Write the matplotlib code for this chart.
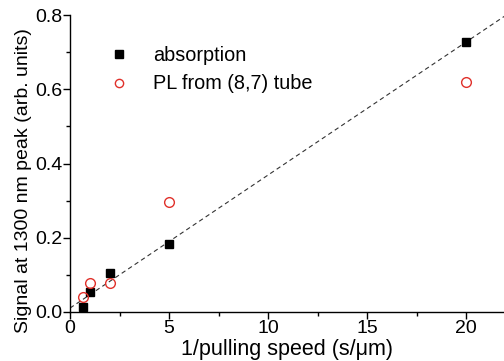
import matplotlib
matplotlib.use("Agg")
import matplotlib.pyplot as plt
import numpy as np
from matplotlib.ticker import MultipleLocator

plt.rcParams['font.family'] = ['Liberation Sans', 'DejaVu Sans']

abs_x = [0.67, 1.0, 2.0, 5.0, 20.0]
abs_y = [0.013, 0.053, 0.104, 0.183, 0.728]
pl_x = [0.67, 1.0, 2.0, 5.0, 20.0]
pl_y = [0.041, 0.078, 0.077, 0.296, 0.62]

fig = plt.figure(figsize=(5.04, 3.61), dpi=100)
ax = fig.add_axes([0.139, 0.136, 0.861, 0.822])

slope, icpt = np.polyfit(abs_x, abs_y, 1)
xl = np.array([0, 22])
ax.plot(xl, slope * xl + icpt, ls=(0, (4, 3)), color='#333333', lw=0.8)

ax.plot(abs_x, abs_y, 's', color='black', ms=6, label='absorption', zorder=3)
ax.plot(pl_x, pl_y, 'o', mfc='none', mec='#e0302a', mew=1.0, ms=7,
        label='PL from (8,7) tube', zorder=3)

ax.set_xlim(0, 21.9)
ax.set_ylim(0, 0.8)
ax.xaxis.set_major_locator(MultipleLocator(5))
ax.xaxis.set_minor_locator(MultipleLocator(2.5))
ax.yaxis.set_minor_locator(MultipleLocator(0.1))
ax.set_yticks([0, 0.2, 0.4, 0.6, 0.8])
ax.set_yticklabels(['0.0', '0.2', '0.4', '0.6', '0.8'])
ax.tick_params(which='major', direction='out', length=5, width=1, labelsize=14, pad=0.5)
ax.tick_params(which='minor', direction='out', length=3, width=1)
for s in ['top', 'right']:
    ax.spines[s].set_visible(False)
for s in ['left', 'bottom']:
    ax.spines[s].set_linewidth(1.0)

ax.set_xlabel('1/pulling speed (s/μm)', fontsize=15.5, labelpad=1.5)
ax.set_ylabel('Signal at 1300 nm peak (arb. units)', fontsize=14)
ax.yaxis.set_label_coords(-0.088, 0.444)

ax.legend(loc='upper left', bbox_to_anchor=(0.068, 0.923), frameon=False,
          fontsize=14.3, markerscale=0.85, handlelength=1.2, handletextpad=1.1,
          labelspacing=0.48, borderaxespad=0)

fig.savefig('out.png', dpi=100)
